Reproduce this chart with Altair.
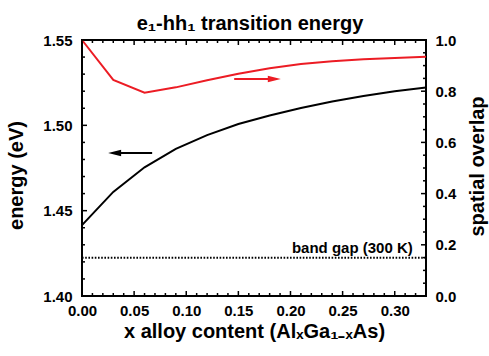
import altair as alt
import pandas as pd

# ---- data ----
x_content = [0.00, 0.03, 0.06, 0.09, 0.12, 0.15, 0.18, 0.21, 0.24, 0.27, 0.30, 0.33]
energy_eV = [1.4415, 1.4610, 1.4754, 1.4862, 1.4943, 1.5008, 1.5058, 1.5102, 1.5140, 1.5172, 1.5200, 1.5222]
overlap = [1.000, 0.844, 0.794, 0.815, 0.843, 0.868, 0.890, 0.906, 0.917, 0.925, 0.930, 0.935]
band_gap_eV = [1.4224]
band_gap_label = ["band gap (300 K)"]

x_labels = [0.00, 0.05, 0.10, 0.15, 0.20, 0.25, 0.30]
x_minor = [round(i * 0.01, 2) for i in range(34) if i % 5 != 0]
e_labels = [1.40, 1.45, 1.50, 1.55]
e_minor = [round(1.40 + i * 0.01, 2) for i in range(16) if i % 5 != 0]
o_labels = [0.0, 0.2, 0.4, 0.6, 0.8, 1.0]
o_minor = [round(i * 0.05, 2) for i in range(21) if i % 4 != 0]

# arrows (tail x, head-base x, head-centre x, level)
red_arrow = {"x": [0.146], "x2": [0.184], "tip": [0.1845], "y": [0.848]}
black_arrow = {"x": [0.0673], "x2": [0.031], "tip": [0.0313], "y": [1.4838]}

W, H = 344, 256
FONT = "Liberation Sans"
RED = "#ec1c24"

df = pd.DataFrame({"x": x_content, "energy": energy_eV, "overlap": overlap})

xscale = alt.Scale(domain=[0, 0.33], nice=False, zero=False)
escale = alt.Scale(domain=[1.40, 1.55], nice=False, zero=False)
oscale = alt.Scale(domain=[0.0, 1.0], nice=False, zero=False)

xaxis = alt.Axis(orient="bottom", values=x_labels, format=".2f",
                 title="x alloy content (AlₓGa₁₋ₓAs)",
                 labelPadding=7, titleY=41, titleBaseline="alphabetic", labelFlush=False)
eaxis = alt.Axis(orient="left", values=e_labels, format=".2f", title="energy (eV)",
                 labelPadding=10, titleAngle=270, titleX=-59.5, titleY=135,
                 titleBaseline="alphabetic", titleAlign="center", labelFlush=False)
oaxis = alt.Axis(orient="right", values=o_labels, format=".1f", title="spatial overlap",
                 labelPadding=9, titleAngle=270, titleX=57.5, titleY=126,
                 titleBaseline="alphabetic", titleAlign="center", labelFlush=False)


def X(field):
    return alt.X(field, type="quantitative", scale=xscale, axis=xaxis)


black = alt.Chart(df).mark_line(color="black", strokeWidth=2).encode(
    x=X("x"),
    y=alt.Y("energy:Q", scale=escale, axis=eaxis),
)
red = alt.Chart(df).mark_line(color=RED, strokeWidth=2).encode(
    x=X("x"),
    y=alt.Y("overlap:Q", scale=oscale, axis=oaxis),
)

bg = pd.DataFrame({"x": [0.0], "x2": [0.33], "e": band_gap_eV})
band = alt.Chart(bg).mark_rule(color="black", strokeWidth=2, strokeDash=[1.6, 1.6]).encode(
    x=X("x"), x2="x2:Q",
    y=alt.Y("e:Q", scale=escale, axis=None),
)
bgt = pd.DataFrame({"x": [0.3173], "e": [band_gap_eV[0] + 0.0030], "t": band_gap_label})
band_text = alt.Chart(bgt).mark_text(align="right", baseline="alphabetic", font=FONT,
                                     fontSize=15, fontWeight="bold", color="black").encode(
    x=X("x"),
    y=alt.Y("e:Q", scale=escale, axis=None),
    text="t:N",
)

# arrows
ra = pd.DataFrame(red_arrow)
ba = pd.DataFrame(black_arrow)
RIGHT_HEAD = "M-1,-0.5L1,0L-1,0.5Z"
LEFT_HEAD = "M1,-0.5L-1,0L1,0.5Z"
red_shaft = alt.Chart(ra).mark_rule(color=RED, strokeWidth=2).encode(
    x=X("x"), x2="x2:Q",
    y=alt.Y("y:Q", scale=oscale, axis=None))
red_head = alt.Chart(ra).mark_point(shape=RIGHT_HEAD, filled=True, color=RED, opacity=1,
                                    size=170, strokeWidth=0).encode(
    x=X("tip"),
    y=alt.Y("y:Q", scale=oscale, axis=None))
black_shaft = alt.Chart(ba).mark_rule(color="black", strokeWidth=2).encode(
    x=X("x"), x2="x2:Q",
    y=alt.Y("y:Q", scale=escale, axis=None))
black_head = alt.Chart(ba).mark_point(shape=LEFT_HEAD, filled=True, color="black", opacity=1,
                                      size=170, strokeWidth=0).encode(
    x=X("tip"),
    y=alt.Y("y:Q", scale=escale, axis=None))

# inward ticks on all four sides
MAJ, MIN, TW = 5, 3, 1.5


def xticks(vals, length):
    d = pd.DataFrame({"t": vals})
    bottom = alt.Chart(d).mark_rule(color="black", strokeWidth=TW).encode(
        x=X("t"), y=alt.value(H), y2=alt.value(H - length))
    top = alt.Chart(d).mark_rule(color="black", strokeWidth=TW).encode(
        x=X("t"), y=alt.value(0), y2=alt.value(length))
    return [bottom, top]


def yticks(vals, scale, left, length):
    d = pd.DataFrame({"t": vals})
    x0 = 0 if left else W
    x1 = length if left else W - length
    return [alt.Chart(d).mark_rule(color="black", strokeWidth=TW).encode(
        y=alt.Y("t:Q", scale=scale, axis=None), x=alt.value(x0), x2=alt.value(x1))]


ticks = (xticks(x_labels, MAJ) + xticks(x_minor, MIN)
         + yticks(e_labels, escale, True, MAJ) + yticks(e_minor, escale, True, MIN)
         + yticks(o_labels, oscale, False, MAJ) + yticks(o_minor, oscale, False, MIN))

chart = alt.layer(
    black, red, band, band_text, red_shaft, red_head, black_shaft, black_head, *ticks
).resolve_scale(y="independent").resolve_axis(y="independent").properties(
    width=W, height=H,
    background="white",
    autosize=alt.AutoSizeParams(type="none"),
    padding={"left": 82, "top": 40, "right": 63, "bottom": 60},
    title=alt.Title("e₁-hh₁ transition energy", font=FONT, fontSize=20, fontWeight="bold",
                    color="black", anchor="middle", frame="group", baseline="alphabetic",
                    offset=6, dy=23, dx=-4),
).configure_view(stroke="black", strokeWidth=2).configure_axis(
    grid=False, domain=False, ticks=False, tickSize=0,
    labelFont=FONT, labelFontSize=15, labelFontWeight="bold", labelColor="black",
    titleFont=FONT, titleFontSize=20, titleFontWeight="bold", titleColor="black",
)

chart.save("out.html", embed_options={"renderer": "svg", "actions": False})
